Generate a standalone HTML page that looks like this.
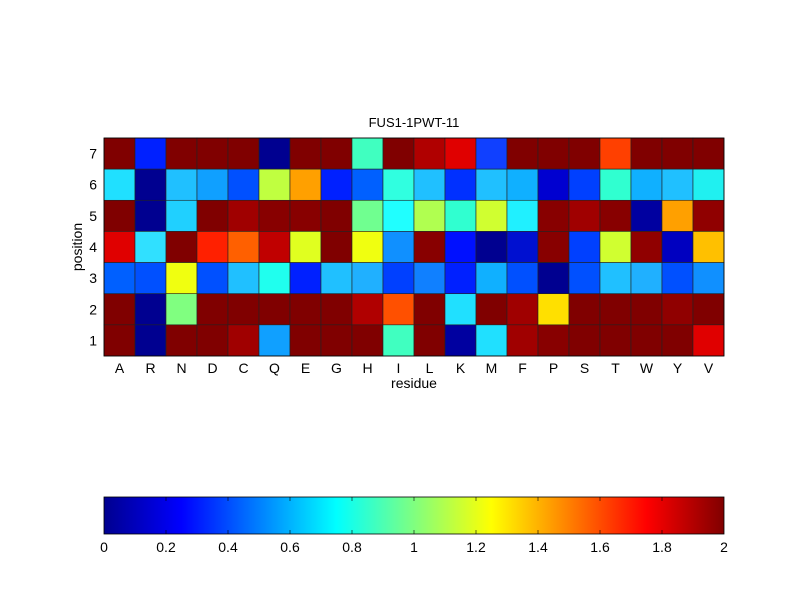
<!DOCTYPE html>
<html><head><style>body{margin:0;background:#fff}svg{display:block}</style></head><body>
<svg width="800" height="600" xmlns="http://www.w3.org/2000/svg" font-family="Liberation Sans, sans-serif" font-size="14">
<defs><linearGradient id="jet" x1="0" x2="1" y1="0" y2="0">
<stop offset="0" stop-color="#00008f"/><stop offset="0.125" stop-color="#0000ff"/><stop offset="0.375" stop-color="#00ffff"/><stop offset="0.625" stop-color="#ffff00"/><stop offset="0.875" stop-color="#ff0000"/><stop offset="1" stop-color="#800000"/></linearGradient></defs>
<text x="414" y="127" text-anchor="middle" font-size="13">FUS1-1PWT-11</text>
<g id="grid" stroke="#222" stroke-width="0.6"></g>
<rect x="104" y="138" width="620" height="218" fill="none" stroke="#000" stroke-width="0.8"/>
<g id="lbl" text-anchor="middle"></g>
<text x="414" y="388" text-anchor="middle">residue</text>
<text transform="translate(82,247) rotate(-90)" text-anchor="middle">position</text>
<rect x="104" y="497" width="620" height="37" fill="url(#jet)" stroke="#000" stroke-width="0.8"/>
<g id="cb" text-anchor="middle"></g>
<script>
var rows=[
"800000 0020ff 800000 800000 800000 000090 800000 800000 40ffc0 800000 b00000 e00000 1040ff 800000 800000 800000 ff4000 800000 800000 800000",
"20e0ff 000090 20c0ff 10a0ff 0050ff c0ff40 ffa000 0020ff 0060ff 30ffe0 20c0ff 0030ff 20c0ff 10b0ff 0000d0 0040ff 30ffd0 10b0ff 20c0ff 20f0f0",
"800000 000090 20d0ff 800000 a00000 880000 880000 800000 70ff90 20ffff b0ff50 30ffd0 d0ff30 20f0ff 880000 a00000 880000 0000a0 ffa000 900000",
"e00000 30e0ff 800000 ff2000 ff6000 c00000 e0ff20 800000 f0ff10 1090ff 880000 0010ff 000090 0010d0 880000 0040ff d0ff30 900000 0000c0 ffc000",
"0060ff 0050ff f0ff10 0050ff 20c0ff 20ffee 0020ff 20c0ff 20b0ff 0040ff 1080ff 0020ff 10b0ff 0050ff 000090 0050ff 20c0ff 20b0ff 0050ff 1090ff",
"800000 000090 80ff80 800000 800000 800000 800000 800000 b00000 ff5000 800000 20e0ff 800000 a00000 ffe000 800000 800000 800000 900000 800000",
"800000 000090 800000 800000 a00000 10a0ff 800000 800000 800000 40ffc0 800000 0000a0 20e0ff a00000 880000 800000 800000 800000 800000 e00000"];
var ns="http://www.w3.org/2000/svg",g=document.getElementById("grid"),l=document.getElementById("lbl"),cb=document.getElementById("cb");
var cw=31,ch=218/7;
function el(t,a,p,txt){var e=document.createElementNS(ns,t);for(var k in a)e.setAttribute(k,a[k]);if(txt!=null)e.textContent=txt;p.appendChild(e);}
rows.forEach(function(r,i){r.split(" ").forEach(function(c,j){el("rect",{x:104+j*cw,y:138+i*ch,width:cw,height:ch,fill:"#"+c},g);});});
"A R N D C Q E G H I L K M F P S T W Y V".split(" ").forEach(function(s,j){el("text",{x:104+j*cw+cw/2,y:373},l,s);});
for(var i=0;i<7;i++)el("text",{x:97,y:138+i*ch+ch/2+5,"text-anchor":"end"},l,String(7-i));
["0","0.2","0.4","0.6","0.8","1","1.2","1.4","1.6","1.8","2"].forEach(function(s,k){var x=104+k*62;el("text",{x:x,y:552},cb,s);if(k>0&&k<10){el("line",{x1:x,x2:x,y1:497,y2:501,stroke:"#000","stroke-width":0.6},cb);el("line",{x1:x,x2:x,y1:530,y2:534,stroke:"#000","stroke-width":0.6},cb);}});
</script>
</svg>
</body></html>
